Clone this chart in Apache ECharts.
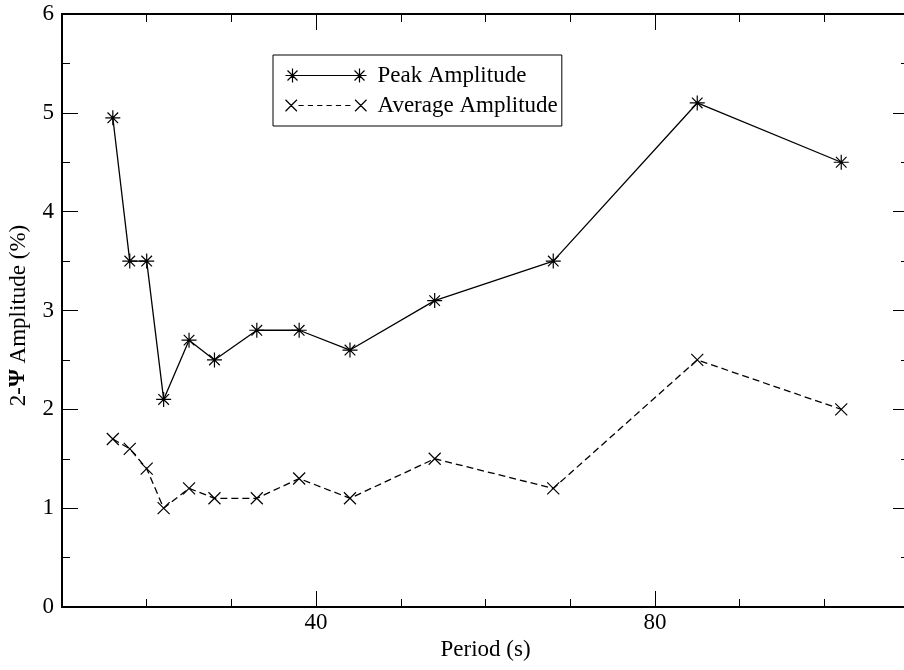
<!DOCTYPE html>
<html>
<head>
<meta charset="utf-8">
<script src="https://cdn.jsdelivr.net/npm/echarts@6.0.0/dist/echarts.min.js"></script>
<style>
  html, body { margin: 0; padding: 0; background: #fff; }
  #chart { width: 904px; height: 670px; }
</style>
</head>
<body>
<div id="chart"></div>
<script>
// Values.
const PERIODS = [16, 18, 20, 22, 25, 28, 33, 38, 44, 54, 68, 85, 102];
const PEAK_AMPLITUDE = [4.95, 3.5, 3.5, 2.1, 2.7, 2.5, 2.8, 2.8, 2.6, 3.1, 3.5, 5.1, 4.5];
const AVERAGE_AMPLITUDE = [1.7, 1.6, 1.4, 1.0, 1.2, 1.1, 1.1, 1.3, 1.1, 1.5, 1.2, 2.5, 2.0];

const X_RANGE = [10, 110];
const Y_RANGE = [0, 6];
const X_MAJOR_TICKS = [40, 80];

const FONT = "'Liberation Serif', 'Times New Roman', serif";

// Grace-style markers drawn as strokes.
const ASTERISK = 'path://M0,7.5L15,7.5M7.5,0L7.5,15M2.2,2.2L12.8,12.8M12.8,2.2L2.2,12.8';
const CROSS = 'path://M0,0L12,12M12,0L0,12';

// Legend icons: marker — line — marker, like the original key.
const ICON_PEAK = 'path://M0,7L14,7M7,0L7,14M2,2L12,12M12,2L2,12' +
  'M7,7L74,7' +
  'M67,7L81,7M74,0L74,14M69,2L79,12M79,2L69,12';
const ICON_AVG = 'path://M1.5,1.5L12.5,12.5M12.5,1.5L1.5,12.5' +
  'M14,7L19,7M23,7L28,7M32,7L37,7M41,7L46,7M50,7L55,7M59,7L64,7' +
  'M68.5,1.5L79.5,12.5M79.5,1.5L68.5,12.5';

const zip = (xs, ys) => xs.map((x, i) => [x, ys[i]]);

// Frame axes: a short-tick axis every 10 s plus an overlay carrying the
// long ticks at the labelled values.
function xAxis(position, long) {
  return {
    type: 'value', position,
    min: X_RANGE[0], max: X_RANGE[1], interval: 10,
    axisLine: { show: !long, lineStyle: { color: '#000', width: 2 } },
    axisTick: long
      ? { show: true, inside: true, length: 16, customValues: X_MAJOR_TICKS, lineStyle: { color: '#000', width: 1 } }
      : { show: true, inside: true, length: 8, lineStyle: { color: '#000', width: 1 } },
    axisLabel: (position === 'bottom' && !long)
      ? { show: true, customValues: X_MAJOR_TICKS, margin: 4, color: '#000', fontFamily: FONT, fontSize: 23 }
      : { show: false },
    splitLine: { show: false },
    name: (position === 'bottom' && !long) ? 'Period (s)' : '',
    nameLocation: 'middle', nameGap: 31,
    nameTextStyle: { color: '#000', fontFamily: FONT, fontSize: 23 },
  };
}

function yAxis(position) {
  const left = position === 'left';
  return {
    type: 'value', position,
    min: Y_RANGE[0], max: Y_RANGE[1], interval: 1,
    axisLine: { show: true, lineStyle: { color: '#000', width: 2 } },
    axisTick: { show: true, inside: true, length: 16, lineStyle: { color: '#000', width: 1 } },
    minorTick: { show: true, splitNumber: 2, length: 8, lineStyle: { color: '#000', width: 1 } },
    axisLabel: left
      ? { show: true, margin: 8, color: '#000', fontFamily: FONT, fontSize: 23 }
      : { show: false },
    splitLine: { show: false },
    minorSplitLine: { show: false },
    name: left ? '2-{b|Ψ} Amplitude (%)' : '',
    nameLocation: 'middle', nameGap: 32, nameRotate: 90,
    nameTextStyle: {
      color: '#000', fontFamily: FONT, fontSize: 23,
      padding: [0, 10, 0, 0],
      rich: { b: { fontFamily: FONT, fontSize: 23, fontWeight: 'bold', color: '#000' } },
    },
  };
}

const chart = echarts.init(document.getElementById('chart'), null, { renderer: 'canvas' });

chart.setOption({
  animation: false,
  backgroundColor: '#fff',
  grid: { left: 62, top: 14, width: 847, height: 593, outerBoundsMode: 'none' },
  xAxis: [xAxis('bottom', false), xAxis('bottom', true), xAxis('top', false), xAxis('top', true)],
  yAxis: [yAxis('left'), yAxis('right')],
  legend: {
    orient: 'vertical', left: 273, top: 55,
    padding: [9, 4, 9, 10],
    itemGap: 7, itemWidth: 81, itemHeight: 14,
    borderColor: '#000', borderWidth: 1,
    itemStyle: { color: 'none', borderColor: '#000', borderWidth: 1.2 },
    textStyle: { color: '#000', fontFamily: FONT, fontSize: 23, padding: [0, 0, 0, 6] },
    data: [
      { name: 'Peak Amplitude', icon: ICON_PEAK },
      { name: 'Average Amplitude', icon: ICON_AVG },
    ],
    selectedMode: false,
  },
  series: [
    {
      name: 'Peak Amplitude', type: 'line', xAxisIndex: 0, yAxisIndex: 0,
      data: zip(PERIODS, PEAK_AMPLITUDE),
      symbol: ASTERISK, symbolSize: 15, showSymbol: true,
      lineStyle: { color: '#000', width: 1.3, type: 'solid' },
      itemStyle: { color: 'none', borderColor: '#000', borderWidth: 1.2 },
      z: 3,
    },
    {
      name: 'Average Amplitude', type: 'line', xAxisIndex: 0, yAxisIndex: 0,
      data: zip(PERIODS, AVERAGE_AMPLITUDE),
      symbol: CROSS, symbolSize: 12, showSymbol: true,
      lineStyle: { color: '#000', width: 1.3, type: [7, 4] },
      itemStyle: { color: 'none', borderColor: '#000', borderWidth: 1.2 },
      z: 3,
    },
  ],
});
</script>
</body>
</html>
